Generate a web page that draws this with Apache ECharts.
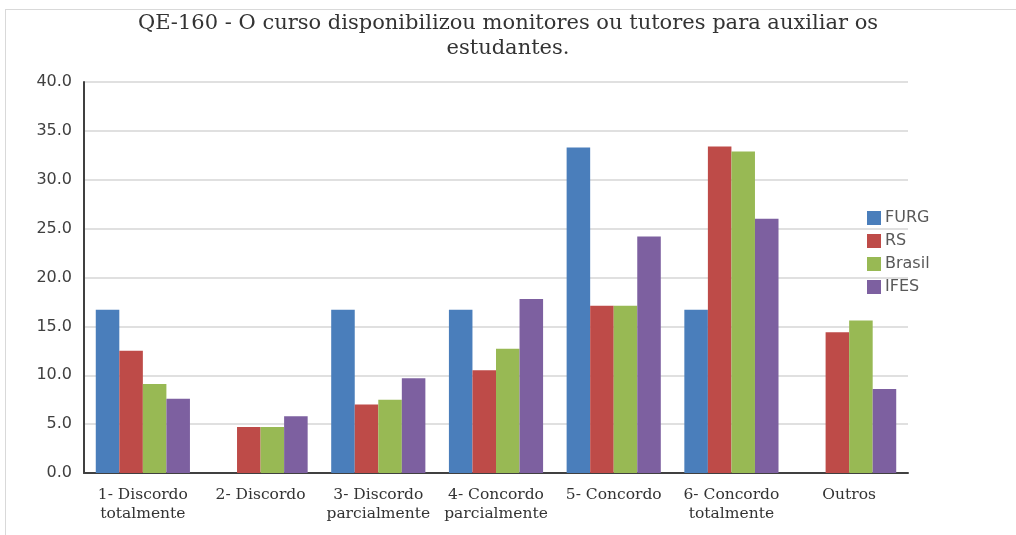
<!DOCTYPE html>
<html>
<head>
<meta charset="utf-8">
<script src="https://cdn.jsdelivr.net/npm/echarts@6/dist/echarts.min.js"></script>
<style>
  html, body { margin: 0; padding: 0; background: #ffffff; }
  #frame { position: absolute; left: 5px; top: 9px; width: 1011px; height: 526px;
           border-top: 1px solid #d9d9d9; border-left: 1px solid #d9d9d9; }
  #chart { position: absolute; left: 0; top: 0; width: 1016px; height: 535px; }
</style>
</head>
<body>
<div id="frame"></div>
<div id="chart"></div>
<script>
// Response categories (x axis)
const categories = [
  '1- Discordo\ntotalmente',
  '2- Discordo',
  '3- Discordo\nparcialmente',
  '4- Concordo\nparcialmente',
  '5- Concordo',
  '6- Concordo\ntotalmente',
  'Outros'
];

// Percentages per group
const furg   = [16.7, 0.0, 16.7, 16.7, 33.3, 16.7, 0.0];
const rs     = [12.5, 4.7, 7.0, 10.5, 17.1, 33.4, 14.4];
const brasil = [9.1, 4.7, 7.5, 12.7, 17.1, 32.9, 15.6];
const ifes   = [7.6, 5.8, 9.7, 17.8, 24.2, 26.0, 8.6];

const seriesNames = ['FURG', 'RS', 'Brasil', 'IFES'];
const colors = ['#4a7ebb', '#be4b48', '#98b954', '#7d60a0'];

const chart = echarts.init(document.getElementById('chart'), null, { renderer: 'canvas' });

const option = {
  animation: false,
  title: {
    text: 'QE-160 - O curso disponibilizou monitores ou tutores para auxiliar os\nestudantes.',
    left: 'center',
    top: 6,
    textStyle: {
      fontFamily: 'DejaVu Serif',
      fontSize: 21,
      fontWeight: 'normal',
      color: '#333333',
      lineHeight: 25
    }
  },
  legend: {
    orient: 'vertical',
    left: 862,
    top: 204,
    itemWidth: 14,
    itemHeight: 14,
    itemGap: 5,
    icon: 'rect',
    textStyle: { fontFamily: 'DejaVu Sans', fontSize: 16, lineHeight: 18, color: '#595959', padding: [0, 0, 0, -1] },
    data: seriesNames
  },
  grid: { left: 84, right: 108, top: 82, bottom: 62 },
  xAxis: {
    type: 'category',
    data: categories,
    axisLine: { lineStyle: { color: '#404040', width: 2 } },
    axisTick: { show: false },
    axisLabel: {
      interval: 0,
      margin: 12,
      fontFamily: 'DejaVu Serif',
      fontSize: 15.5,
      lineHeight: 19,
      color: '#333333'
    }
  },
  yAxis: {
    type: 'value',
    min: 0,
    max: 40,
    interval: 5,
    axisLine: { show: true, lineStyle: { color: '#404040', width: 2 } },
    axisTick: { show: false },
    splitLine: { lineStyle: { color: '#e0e0e0', width: 2 } },
    axisLabel: {
      margin: 12,
      fontFamily: 'DejaVu Sans',
      fontSize: 16,
      color: '#404040',
      formatter: v => v.toFixed(1)
    }
  },
  series: [furg, rs, brasil, ifes].map((d, i) => ({
    name: seriesNames[i],
    type: 'bar',
    data: d,
    barGap: '0%',
    barCategoryGap: '20%',
    itemStyle: { color: colors[i] }
  }))
};

chart.setOption(option);
</script>
</body>
</html>
